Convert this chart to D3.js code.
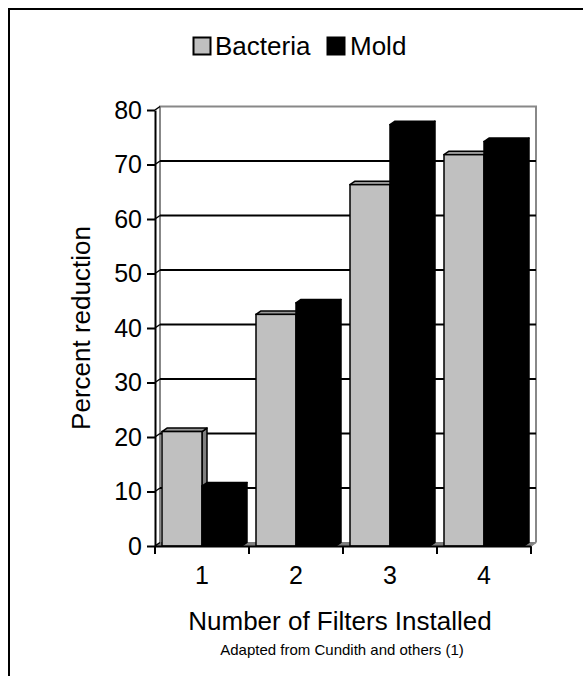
<!DOCTYPE html>
<html><head><meta charset="utf-8">
<script src="https://cdn.jsdelivr.net/npm/d3@7"></script>
<style>body{margin:0;background:#fff;} svg{display:block;font-family:Arial,"Liberation Sans",sans-serif;}</style>
</head><body>
<script>
const categories = ["1","2","3","4"];
const seriesNames = ["Bacteria","Mold"];
const bacteria = [21, 42.5, 66.3, 71.8];
const mold = [11, 44.6, 77.3, 74.2];
const yTicks = [0,10,20,30,40,50,60,70,80];
const colors = {Bacteria:"#c0c0c0", Mold:"#000000"};
const topColors = {Bacteria:"#999999", Mold:"#000000"};

const W=583,H=676;
const FONT="Arial, 'Liberation Sans', sans-serif";
const svg=d3.select("body").append("svg").attr("width",W).attr("height",H);
// outer frame
svg.append("rect").attr("x",9).attr("y",9).attr("width",700).attr("height",800)
  .attr("fill","none").attr("stroke","#000").attr("stroke-width",2);

const dx=5, dy=-3.5;
const y=d3.scaleLinear().domain([0,80]).range([546,110]);
const x=d3.scaleBand().domain(categories).range([155,531]).padding(0);
const xs=d3.scaleBand().domain(seriesNames).range([0,x.bandwidth()]).paddingInner(0).paddingOuter(0.175);
const x0=155, x1=531;

// floor
svg.append("path").attr("d",`M${x0},${y(0)}L${x1},${y(0)}L${x1+dx},${y(0)+dy}L${x0+dx},${y(0)+dy}Z`)
  .attr("fill","#808080").attr("stroke","#808080").attr("stroke-width",1);
// back wall edges
svg.append("path").attr("d",`M${x0+dx},${y(0)+dy}L${x0+dx},${y(80)+dy}L${x1+dx},${y(80)+dy}L${x1+dx},${y(0)+dy}`)
  .attr("fill","none").attr("stroke","#888").attr("stroke-width",2);
// gridlines on back wall + side wall diagonals
yTicks.forEach(t=>{
  if(t>0 && t<80){
    svg.append("line").attr("x1",x0+dx).attr("x2",x1+dx).attr("y1",y(t)+dy).attr("y2",y(t)+dy)
      .attr("stroke","#000").attr("stroke-width",2);
  }
  svg.append("line").attr("x1",x0).attr("x2",x0+dx).attr("y1",y(t)).attr("y2",y(t)+dy)
    .attr("stroke","#000").attr("stroke-width",1.5);
});

// bars
const data = categories.map((c,i)=>({c, vals:[{s:"Bacteria",v:bacteria[i]},{s:"Mold",v:mold[i]}]}));
data.forEach(g=>{
  g.vals.forEach(d=>{
    const bx=x(g.c)+xs(d.s), bw=xs.bandwidth(), top=y(d.v), base=y(0);
    const grp=svg.append("g");
    grp.append("path").attr("d",`M${bx+bw},${top}L${bx+bw+dx},${top+dy}L${bx+bw+dx},${base+dy}L${bx+bw},${base}Z`)
      .attr("fill",d.s==="Bacteria"?"#808080":"#000").attr("stroke","#000").attr("stroke-width",1.5).attr("stroke-linejoin","round");
    grp.append("path").attr("d",`M${bx},${top}L${bx+dx},${top+dy}L${bx+bw+dx},${top+dy}L${bx+bw},${top}Z`)
      .attr("fill",topColors[d.s]).attr("stroke","#000").attr("stroke-width",1.5).attr("stroke-linejoin","round");
    grp.append("rect").attr("x",bx).attr("y",top).attr("width",bw).attr("height",base-top)
      .attr("fill",colors[d.s]).attr("stroke","#000").attr("stroke-width",1.5);
  });
});

// y axis
const yAxis=svg.append("g").attr("transform",`translate(${x0},0)`)
  .call(d3.axisLeft(y).tickValues(yTicks).tickSize(8).tickPadding(5).tickSizeOuter(0));
yAxis.select(".domain").attr("stroke","#000").attr("stroke-width",2);
yAxis.selectAll(".tick line").attr("stroke","#000").attr("stroke-width",2);
yAxis.selectAll("text").attr("font-size",25).attr("fill","#000").attr("font-family",FONT);

// x axis
const xAxis=svg.append("g").attr("transform",`translate(0,${y(0)})`)
  .call(d3.axisBottom(x).tickSize(0).tickPadding(20));
xAxis.select(".domain").attr("stroke","#000").attr("stroke-width",2);
xAxis.selectAll("text").attr("font-size",25).attr("fill","#000").attr("font-family",FONT);
const xTickPos=[...categories.map(c=>x(c)), x1];
xTickPos.forEach(p=>{
  svg.append("line").attr("x1",p).attr("x2",p).attr("y1",y(0)).attr("y2",y(0)+8).attr("stroke","#000").attr("stroke-width",2);
});
svg.append("line").attr("x1",x1).attr("x2",x1+dx).attr("y1",y(0)).attr("y2",y(0)+dy).attr("stroke","#888").attr("stroke-width",1.5);

// titles
svg.append("text").attr("x",340).attr("y",630).attr("text-anchor","middle").attr("font-size",26).text("Number of Filters Installed");
svg.append("text").attr("x",342).attr("y",655).attr("text-anchor","middle").attr("font-size",15).text("Adapted from Cundith and others (1)");
svg.append("text").attr("transform","translate(90,328) rotate(-90)").attr("text-anchor","middle").attr("font-size",26).text("Percent reduction");

// legend
const leg=svg.append("g");
leg.append("rect").attr("x",193.5).attr("y",37.5).attr("width",17).attr("height",17).attr("fill",colors.Bacteria).attr("stroke","#000").attr("stroke-width",2);
leg.append("text").attr("x",215).attr("y",55).attr("font-size",26).text(seriesNames[0]);
leg.append("rect").attr("x",327.5).attr("y",37.5).attr("width",17).attr("height",17).attr("fill",colors.Mold).attr("stroke","#000").attr("stroke-width",2);
leg.append("text").attr("x",350).attr("y",55).attr("font-size",26).text(seriesNames[1]);
</script>
</body></html>
